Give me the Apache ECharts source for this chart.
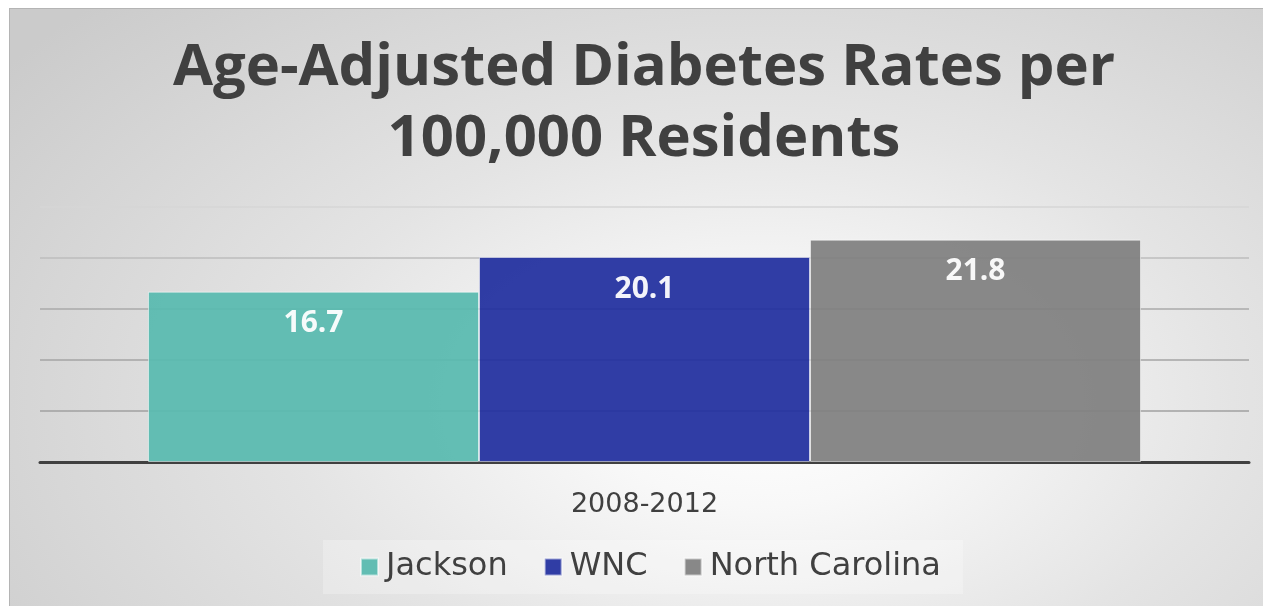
<!DOCTYPE html>
<html>
<head>
<meta charset="utf-8">
<script src="https://cdn.jsdelivr.net/npm/echarts@6/dist/echarts.min.js"></script>
<style>
  html, body { margin: 0; padding: 0; background: #ffffff; }
  #frame {
    position: absolute; left: 9px; top: 8px; width: 1254px; height: 598px;
    border-top: 1px solid #b4b4b4; border-left: 1px solid #b4b4b4;
    background: radial-gradient(ellipse 75% 95% at 60% 66%, #ffffff 0%, #f8f8f8 18%, #e4e4e4 50%, #cbcbcb 100%);
  }
  #chart { position: absolute; left: 0; top: 0; width: 1263px; height: 606px; }
</style>
</head>
<body>
<div id="frame"></div>
<div id="chart"></div>
<script>
// Diabetes rates, age-adjusted, per 100,000 residents
const periods = ['2008-2012'];
const regions = ['Jackson', 'WNC', 'North Carolina'];
const jacksonRates = [16.7];
const wncRates = [20.1];
const ncRates = [21.8];
const regionColors = ['#5bbbb0', '#2533a0', '#828282'];
const yTicks = { min: 0, max: 25, interval: 5 };

const boldFamily = '"Open Sans", "Noto Sans", sans-serif';
const plainFamily = '"DejaVu Sans", sans-serif';

function barSeries(name, values, color) {
  return {
    name: name,
    type: 'bar',
    data: values,
    barWidth: 331,
    barGap: '0%',
    itemStyle: {
      color: color,
      opacity: 0.95,
      borderColor: 'rgba(255,255,255,0.55)',
      borderWidth: 1
    },
    label: {
      show: true,
      position: 'insideTop',
      distance: 17,
      color: '#ffffff',
      fontFamily: boldFamily,
      fontWeight: 'bold',
      fontSize: 30
    }
  };
}

const chart = echarts.init(document.getElementById('chart'), null, { renderer: 'canvas' });
chart.setOption({
  backgroundColor: 'transparent',
  animation: false,
  title: {
    text: 'Age-Adjusted Diabetes Rates per\n100,000 Residents',
    left: 639,
    textAlign: 'center',
    top: 28,
    textStyle: {
      color: '#404040',
      fontFamily: boldFamily,
      fontWeight: 'bold',
      fontSize: 58,
      lineHeight: 71
    }
  },
  legend: {
    data: regions,
    bottom: 12,
    left: 323,
    itemWidth: 17,
    itemHeight: 17,
    itemGap: 36,
    icon: 'rect',
    padding: [11, 22, 11, 37],
    backgroundColor: 'rgba(255,255,255,0.25)',
    textStyle: {
      color: '#404040',
      fontFamily: plainFamily,
      fontSize: 32,
      padding: [0, 0, 0, 3]
    }
  },
  grid: { left: 40, right: 14, top: 207, bottom: 144 },
  xAxis: {
    type: 'category',
    data: periods,
    axisLine: { lineStyle: { color: '#404040', width: 3 } },
    axisTick: { show: false },
    axisLabel: {
      margin: 29,
      color: '#404040',
      fontFamily: plainFamily,
      fontSize: 27
    }
  },
  yAxis: {
    type: 'value',
    min: yTicks.min,
    max: yTicks.max,
    interval: yTicks.interval,
    axisLine: { show: false },
    axisTick: { show: false },
    axisLabel: { show: false },
    splitLine: {
      lineStyle: {
        color: ['#a0a0a0', '#a0a0a0', '#a4a4a4', '#aaaaaa', '#bdbdbd', '#d6d6d6'],
        width: 1.5
      }
    }
  },
  series: [
    barSeries(regions[0], jacksonRates, regionColors[0]),
    barSeries(regions[1], wncRates, regionColors[1]),
    barSeries(regions[2], ncRates, regionColors[2])
  ]
});
</script>
</body>
</html>
